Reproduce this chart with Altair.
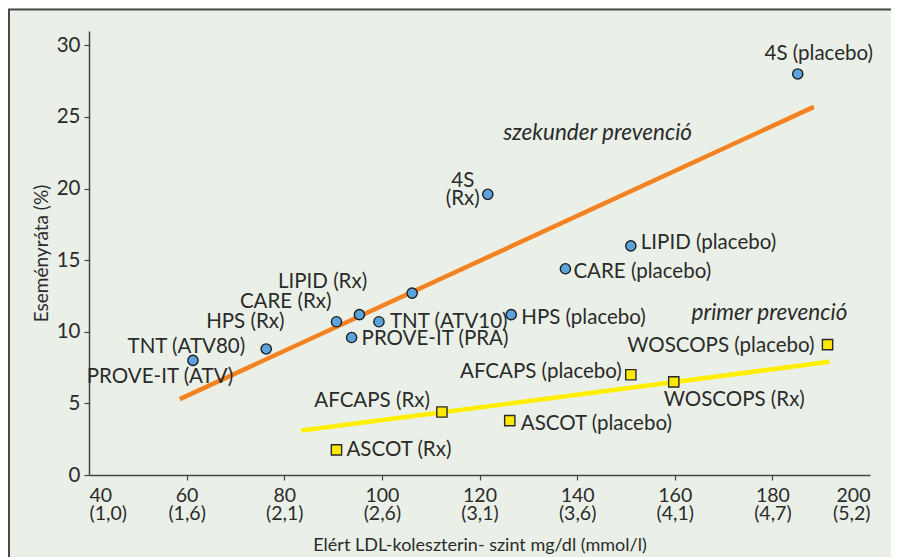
import altair as alt
import pandas as pd

# ---------------- data ----------------
sec_names = ["4S (placebo)", "4S\n(Rx)", "LIPID (placebo)", "CARE (placebo)", "LIPID (Rx)",
             "CARE (Rx)", "HPS (Rx)", "TNT (ATV10)", "PROVE-IT (PRA)", "HPS (placebo)",
             "TNT (ATV80)", "PROVE-IT (ATV)"]
sec_ldl = [185.2, 121.7, 151.0, 137.6, 106.2, 95.4, 90.7, 99.4, 93.8, 126.5, 76.3, 61.3]
sec_event = [28.0, 19.6, 16.0, 14.4, 12.7, 11.2, 10.7, 10.7, 9.6, 11.2, 8.8, 8.0]

pri_names = ["ASCOT (Rx)", "AFCAPS (Rx)", "ASCOT (placebo)", "AFCAPS (placebo)",
             "WOSCOPS (Rx)", "WOSCOPS (placebo)"]
pri_ldl = [90.7, 112.3, 126.2, 151.0, 159.8, 191.3]
pri_event = [1.75, 4.4, 3.8, 7.0, 6.5, 9.1]

sec_line_ldl = [58.6, 188.5]
sec_line_event = [5.3, 25.7]
pri_line_ldl = [83.5, 191.7]
pri_line_event = [3.1, 7.9]

x_ticks = [40, 60, 80, 100, 120, 140, 160, 180, 200]
x_mmol = ["(1,0)", "(1,6)", "(2,1)", "(2,6)", "(3,1)", "(3,6)", "(4,1)", "(4,7)", "(5,2)"]
y_ticks = [0, 5, 10, 15, 20, 25, 30]

annot_text = ["szekunder prevenció", "primer prevenció"]
annot_ldl = [144.2, 179.4]
annot_event = [23.9, 11.3]

# label placement (pixel offsets from the marker, alignment)
sec_label_style = [(21, -20, "center"), (-25, -13, "center"), (10, -3, "left"), (8, 3, "left"),
                   (-45, -11, "right"), (-28, -13, "right"), (-52, 0, "right"), (11, 0, "left"),
                   (10, 1, "left"), (10, 3, "left"), (-21, -2, "right"), (-33, 17, "center")]
pri_label_style = [(10, 0, "left"), (-12, -11, "right"), (11, 3, "left"), (-9, -3, "right"),
                   (-10, 18, "left"), (-13, 1, "right")]

FONT = "Lato"
TXT = "#2b2b2b"
W, H = 781, 444
PAD = {"left": 81, "top": 23, "right": 21, "bottom": 82}

sec_df = pd.DataFrame({"ldl": sec_ldl, "event": sec_event, "label": sec_names})
pri_df = pd.DataFrame({"ldl": pri_ldl, "event": pri_event, "label": pri_names})
sec_line = pd.DataFrame({"ldl": sec_line_ldl, "event": sec_line_event})
pri_line = pd.DataFrame({"ldl": pri_line_ldl, "event": pri_line_event})
annot_df = pd.DataFrame({"ldl": annot_ldl, "event": annot_event, "label": annot_text})

mmol_js = "[" + ",".join("'%s'" % m for m in x_mmol) + "]"
label_expr = "[datum.label, %s[round((datum.value - 40) / 20)]]" % mmol_js

x_enc = alt.X("ldl:Q", scale=alt.Scale(domain=[40, 200], nice=False, zero=False),
              axis=alt.Axis(values=x_ticks, title="Elért LDL-koleszterin- szint mg/dl (mmol/l)",
                            labelExpr=label_expr, labelLineHeight=18, labelFontSize=19.5,
                            labelPadding=6, tickSize=5, grid=False,
                            tickOpacity={"condition": {"test": "datum.value == 40 || datum.value == 200",
                                                       "value": 0}, "value": 1},
                            titlePadding=14, titleFontSize=18))
y_enc = alt.Y("event:Q", scale=alt.Scale(domain=[0, 31], nice=False),
              axis=alt.Axis(values=y_ticks, title="Eseményráta (%)", labelFontSize=20.5,
                            labelPadding=4, tickSize=5, grid=False, titlePadding=5,
                            titleFontSize=19))

frame_df = pd.DataFrame({"a": [0]})
frame_top = alt.Chart(frame_df).mark_rule(color="#4a4a4a", strokeWidth=2).encode(
    x=alt.value(-PAD["left"]), x2=alt.value(W + PAD["right"]), y=alt.value(-21.5))
frame_left = alt.Chart(frame_df).mark_rule(color="#4a4a4a", strokeWidth=2).encode(
    x=alt.value(-PAD["left"] + 1), y=alt.value(-21.5), y2=alt.value(H + PAD["bottom"]))

line_sec = alt.Chart(sec_line).mark_line(color="#F58220", strokeWidth=4.5).encode(x=x_enc, y=y_enc)
line_pri = alt.Chart(pri_line).mark_line(color="#FFEE00", strokeWidth=4.5).encode(x="ldl:Q", y="event:Q")

pts_sec = alt.Chart(sec_df).mark_point(shape="circle", filled=True, size=105, fill="#5AA3DD",
                                       stroke="#1e1e1e", strokeWidth=1.4, opacity=1).encode(
    x="ldl:Q", y="event:Q")
pts_pri = alt.Chart(pri_df).mark_point(shape="square", filled=True, size=105, fill="#FFE900",
                                       stroke="#2a2a2a", strokeWidth=1.4, opacity=1).encode(
    x="ldl:Q", y="event:Q")

layers = [frame_top, frame_left, line_sec, line_pri, pts_sec, pts_pri]

for df, styles in ((sec_df, sec_label_style), (pri_df, pri_label_style)):
    for i, (dx, dy, al) in enumerate(styles):
        layers.append(alt.Chart(df.iloc[[i]]).mark_text(
            dx=dx, dy=dy, align=al, baseline="middle", font=FONT, fontSize=20.5, color=TXT,
            lineBreak="\n", lineHeight=18).encode(x="ldl:Q", y="event:Q", text="label:N"))

layers.append(alt.Chart(annot_df).mark_text(
    align="center", baseline="middle", font=FONT, fontSize=22.5, fontStyle="italic",
    color=TXT).encode(x="ldl:Q", y="event:Q", text="label:N"))

chart = alt.layer(*layers).properties(
    width=W, height=H,
    padding=PAD,
    autosize=alt.AutoSizeParams(type="none"),
    background="#EAF0E7",
).configure_view(strokeWidth=0).configure_axis(
    labelFont=FONT, titleFont=FONT, labelColor=TXT, titleColor=TXT,
    titleFontWeight="normal", domainColor="#444444", tickColor="#444444",
    domainWidth=1.5, tickWidth=1.2)

chart.save("out.html", embed_options={"renderer": "svg", "actions": False})
